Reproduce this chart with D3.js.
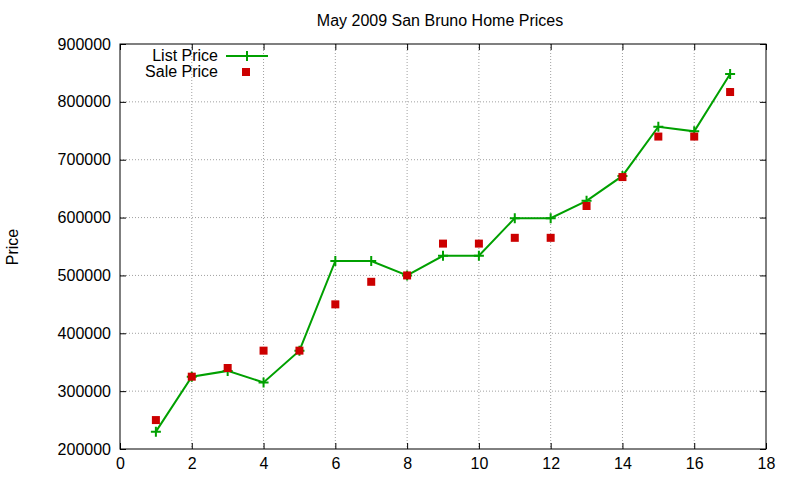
<!DOCTYPE html>
<html><head><meta charset="utf-8">
<script src="https://cdn.jsdelivr.net/npm/d3@7"></script>
<style>body{margin:0;background:#fff}text{font-family:"Liberation Sans",Arial,sans-serif}</style>
</head><body><svg id="c" width="800" height="480"></svg>
<script>
var days = [1,2,3,4,5,6,7,8,9,10,11,12,13,14,15,16,17];
var listPrice = [230000,325000,335000,315000,370000,525000,525000,500000,534000,534000,599000,599000,629000,672000,757000,749000,848000];
var salePrice = [250000,325000,340000,370000,370000,450000,489000,500000,555000,555000,565000,565000,620000,670000,740000,740000,817000];
var xTicks = [0,2,4,6,8,10,12,14,16,18];
var yTicks = [200000,300000,400000,500000,600000,700000,800000,900000];

var svg = d3.select("#c");
var L = 120, R = 766, T = 44, B = 449;
var x = d3.scaleLinear().domain([0,18]).range([L,R]);
var y = d3.scaleLinear().domain([200000,900000]).range([B,T]);

// grid
svg.append("g").selectAll("line").data(xTicks.slice(1,-1)).join("line")
  .attr("x1",x).attr("x2",x).attr("y1",T).attr("y2",B)
  .attr("stroke","#a0a0a0").attr("stroke-dasharray","1,2");
svg.append("g").selectAll("line").data(yTicks.slice(1,-1)).join("line")
  .attr("y1",y).attr("y2",y).attr("x1",L).attr("x2",R)
  .attr("stroke","#a0a0a0").attr("stroke-dasharray","1,2");

// axes with inward ticks on all sides
function ax(a, tr){ svg.append("g").attr("transform",tr).call(a).call(function(g){g.select(".domain").remove();g.selectAll("line").attr("stroke","#000");g.selectAll("text").attr("font-size",16).attr("fill","#000").attr("font-family","Liberation Sans, Arial, sans-serif");}); }
ax(d3.axisBottom(x).tickValues(xTicks).tickSize(-6).tickPadding(9), "translate(0,"+B+")");
ax(d3.axisTop(x).tickValues(xTicks).tickSize(-6).tickFormat(""), "translate(0,"+T+")");
ax(d3.axisLeft(y).tickValues(yTicks).tickSize(-6).tickPadding(9).tickFormat(d3.format("d")), "translate("+L+",0)");
ax(d3.axisRight(y).tickValues(yTicks).tickSize(-6).tickFormat(""), "translate("+R+",0)");
svg.append("rect").attr("x",L).attr("y",T).attr("width",R-L).attr("height",B-T).attr("fill","none").attr("stroke","#000");

// list price line
var green = "#00a000";
svg.append("path").datum(days).attr("fill","none").attr("stroke",green).attr("stroke-width",2)
  .attr("d", d3.line().x(function(d){return x(d);}).y(function(d,i){return y(listPrice[i]);}));
function plus(g, cx, cy){ g.append("path").attr("d","M"+(cx-5)+","+cy+"h10M"+cx+","+(cy-5)+"v10").attr("stroke",green).attr("stroke-width",2); }
var pg = svg.append("g");
days.forEach(function(d,i){ plus(pg, x(d), y(listPrice[i])); });

// sale price squares
svg.append("g").selectAll("rect").data(days).join("rect")
  .attr("x",function(d){return x(d)-4;}).attr("y",function(d,i){return y(salePrice[i])-4;})
  .attr("width",8).attr("height",8).attr("fill","#cc0000");

// legend
svg.append("text").attr("x",218).attr("y",61).attr("text-anchor","end").attr("font-size",16).text("List Price");
svg.append("line").attr("x1",226).attr("x2",268).attr("y1",56).attr("y2",56).attr("stroke",green).attr("stroke-width",2);
plus(svg, 247, 56);
svg.append("text").attr("x",218).attr("y",77).attr("text-anchor","end").attr("font-size",16).text("Sale Price");
svg.append("rect").attr("x",242).attr("y",68).attr("width",8).attr("height",8).attr("fill","#cc0000");

// title and label
svg.append("text").attr("x",440).attr("y",26).attr("text-anchor","middle").attr("font-size",16).text("May 2009 San Bruno Home Prices");
svg.append("text").attr("transform","translate(18,247) rotate(-90)").attr("text-anchor","middle").attr("font-size",16).text("Price");
</script></body></html>
